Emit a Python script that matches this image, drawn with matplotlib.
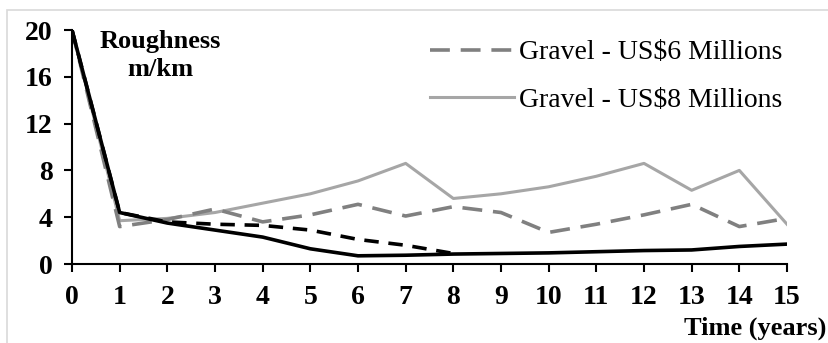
import matplotlib
matplotlib.use("Agg")
import matplotlib.pyplot as plt
from matplotlib.patches import Rectangle

# data ------------------------------------------

years = list(range(16))

gravel_8m = [20, 3.7, 3.9, 4.4, 5.2, 6.0, 7.1, 8.6, 5.6, 6.0, 6.6, 7.5, 8.6, 6.3, 8.0, 3.4]
gravel_6m = [20, 3.2, 3.8, 4.7, 3.6, 4.2, 5.1, 4.1, 4.9, 4.4, 2.7, 3.4, 4.2, 5.1, 3.2, 3.9]
dashed_black = [20, 4.4, 3.6, 3.4, 3.3, 2.9, 2.1, 1.6, 0.9]
solid_black = [20, 4.4, 3.5, 2.9, 2.3, 1.3, 0.7, 0.75, 0.85, 0.9, 0.95, 1.05, 1.15, 1.2, 1.5, 1.7]

legend_labels = ['Gravel - US$6 Millions', 'Gravel - US$8 Millions']

# -----------------------------------------------

plt.rcParams['font.family'] = ['Liberation Serif', 'DejaVu Serif']

fig = plt.figure(figsize=(8.29, 3.43), dpi=100)
ax = fig.add_axes([72 / 829, 1 - 264 / 343, (787 - 72) / 829, (264 - 30) / 343])

# light frame around the chart area
fig.patches.append(Rectangle((7 / 829, -0.2), 1.2, 1.2 - 10 / 343, transform=fig.transFigure,
                             fill=False, edgecolor='#d9d9d9', linewidth=1.2))

l8, = ax.plot(years, gravel_8m, color='#a6a6a6', linewidth=2.2)
l6, = ax.plot(years, gravel_6m, color='#808080', linewidth=2.6, dashes=(5.5, 3))
ax.plot(years[:len(dashed_black)], dashed_black, color='black', linewidth=2.6, dashes=(4, 2.7))
ax.plot(years, solid_black, color='black', linewidth=2.6)

ax.set_xlim(0, 15)
ax.set_ylim(0, 20)
ax.set_xticks(years)
ax.set_yticks([0, 4, 8, 12, 16, 20])

for s in ('top', 'right'):
    ax.spines[s].set_visible(False)
for s in ('left', 'bottom'):
    ax.spines[s].set_linewidth(1.5)

ax.tick_params(axis='both', direction='out', length=6, width=1.5, labelsize=20)
ax.tick_params(axis='x', pad=9)
ax.tick_params(axis='y', pad=8)
for lab in ax.get_xticklabels() + ax.get_yticklabels():
    lab.set_fontweight('bold')

ax.text(0.124, 1.0, 'Roughness\nm/km', transform=ax.transAxes, ha='center', va='top',
        fontsize=19, fontweight='bold', linespacing=1.25)
fig.text(0.997, 0.01, 'Time (years)', ha='right', va='bottom', fontsize=19, fontweight='bold')

leg = ax.legend([l6, l8], legend_labels, loc='upper right', bbox_to_anchor=(1.029, 1.065),
                frameon=False, fontsize=20, handlelength=3.0, handletextpad=0.2, labelspacing=0.8)

fig.savefig('out.png', dpi=100)
